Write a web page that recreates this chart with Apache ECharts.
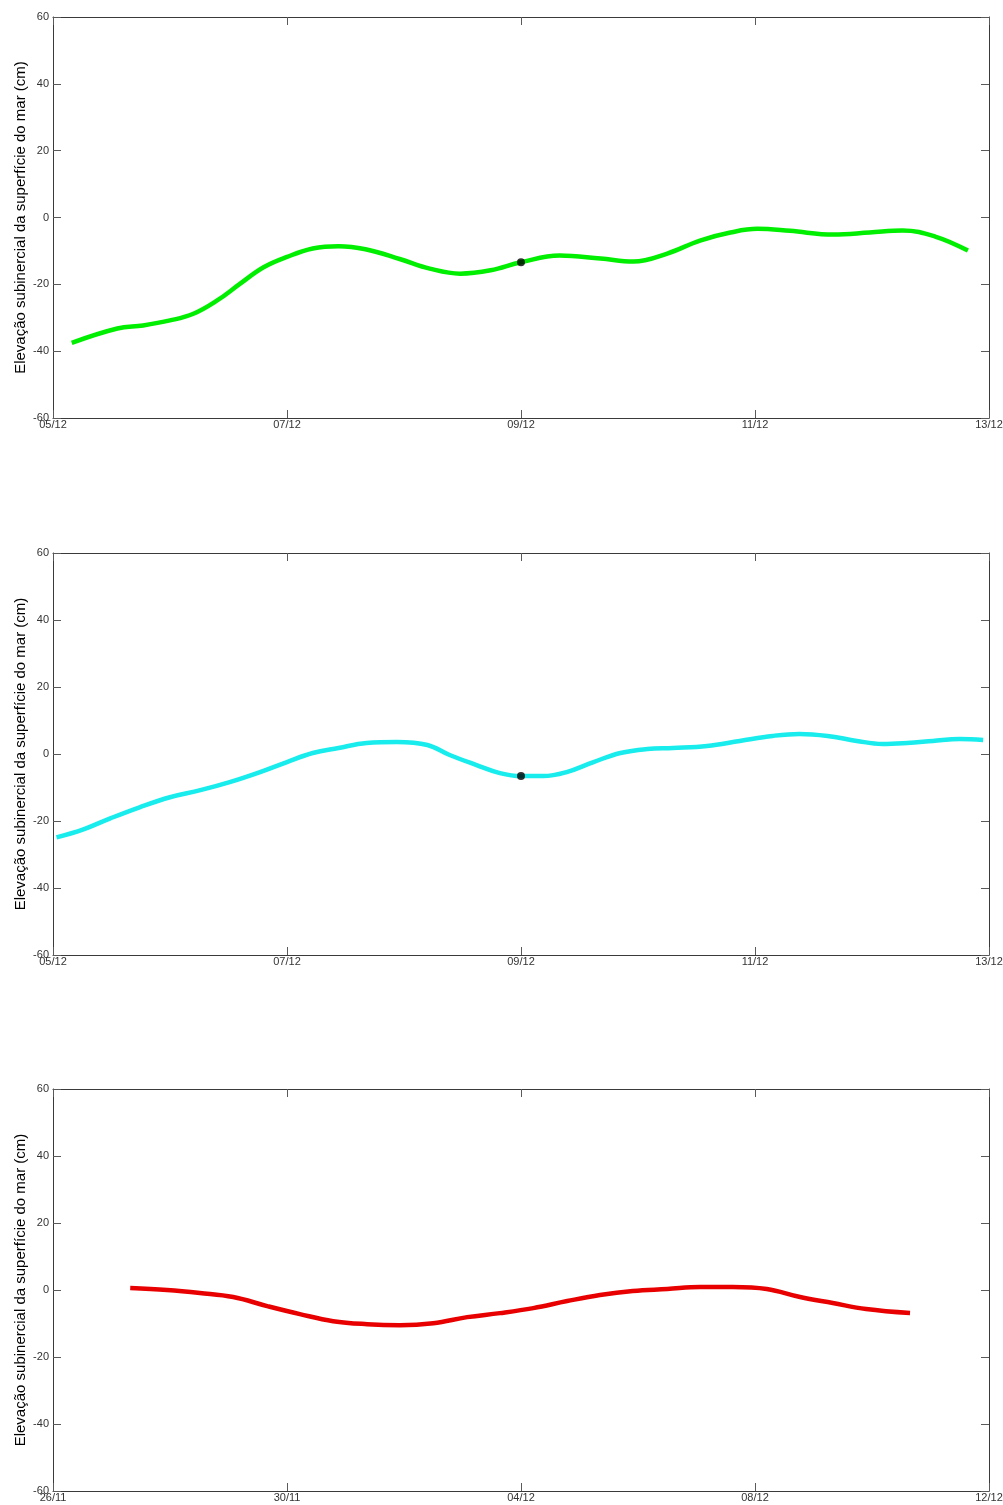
<!DOCTYPE html>
<html>
<head>
<meta charset="utf-8">
<script src="https://cdn.jsdelivr.net/npm/echarts@6/dist/echarts.min.js"></script>
<style>
html,body{margin:0;padding:0;background:#fff;}
#chart{width:1003px;height:1505px;}
</style>
</head>
<body>
<div id="chart"></div>
<script>
// ---- Data ----
// x values are days since the first tick label of each panel
var ticksTop = ["05/12", "07/12", "09/12", "11/12", "13/12"];
var ticksMid = ["05/12", "07/12", "09/12", "11/12", "13/12"];
var ticksBot = ["26/11", "30/11", "04/12", "08/12", "12/12"];
var yTicks = [-60, -40, -20, 0, 20, 40, 60];

var greenX = [0.16, 0.55, 0.77, 1.0, 1.2, 1.4, 1.6, 1.8, 2.0, 2.22, 2.44, 2.67, 2.97, 3.22, 3.48, 3.74, 4.0, 4.33, 4.68, 4.96, 5.25, 5.53, 5.79, 6.02, 6.3, 6.67, 6.98, 7.26, 7.54, 7.82];
var greenY = [-37.5, -33.2, -32.3, -30.8, -28.8, -24.9, -19.8, -14.9, -11.8, -9.3, -8.6, -9.5, -12.5, -15.3, -16.8, -15.8, -13.4, -11.4, -12.3, -13.2, -10.8, -6.9, -4.5, -3.4, -4.0, -5.1, -4.5, -3.9, -5.7, -9.9];
var greenDot = [4.0, -13.4];

var cyanX = [0.03, 0.26, 0.49, 0.74, 1.0, 1.26, 1.51, 1.77, 2.0, 2.22, 2.44, 2.68, 2.94, 3.2, 3.39, 3.62, 3.82, 4.0, 4.19, 4.39, 4.62, 4.85, 5.08, 5.3, 5.59, 5.87, 6.15, 6.38, 6.62, 6.87, 7.09, 7.3, 7.52, 7.75, 7.95];
var cyanY = [-24.9, -22.5, -19.2, -15.9, -12.9, -10.8, -8.4, -5.4, -2.4, 0.3, 1.8, 3.3, 3.6, 2.7, -0.3, -3.3, -5.7, -6.6, -6.6, -5.4, -2.4, 0.3, 1.5, 1.8, 2.4, 3.9, 5.4, 6.0, 5.4, 3.9, 3.0, 3.3, 3.9, 4.5, 4.2];
var cyanDot = [4.0, -6.6];

var redX = [1.32, 1.95, 2.51, 3.08, 3.66, 4.22, 4.79, 5.37, 5.93, 6.5, 7.08, 7.64, 8.21, 8.79, 9.35, 9.91, 10.5, 11.06, 11.62, 12.2, 12.77, 13.33, 13.9, 14.65];
var redY = [0.6, 0.0, -0.9, -2.1, -4.8, -7.2, -9.3, -10.2, -10.5, -9.9, -8.1, -6.9, -5.4, -3.3, -1.5, -0.3, 0.3, 0.9, 0.9, 0.3, -2.1, -3.9, -5.7, -6.9];

var yName = "Elevação subinercial da superfície do mar (cm)";

// ---- Build ----
function zip(xs, ys) { return xs.map(function (x, i) { return [x, ys[i]]; }); }

var panels = [
  { top: 17, height: 401, labels: ticksTop, span: 8, x: greenX, y: greenY, color: "#00ee00", dot: greenDot },
  { top: 553, height: 402, labels: ticksMid, span: 8, x: cyanX, y: cyanY, color: "#18ecec", dot: cyanDot },
  { top: 1089, height: 402, labels: ticksBot, span: 16, x: redX, y: redY, color: "#e80000", dot: null }
];

var lineCol = "#3a3a3a";
var tickCol = "#5a5a5a";
var labelStyle = { color: "#333", fontSize: 11, fontFamily: "Liberation Sans, Arial, sans-serif" };

var option = { animation: false, backgroundColor: "#fff", grid: [], xAxis: [], yAxis: [], series: [] };

panels.forEach(function (p, i) {
  option.grid.push({ left: 53, right: 14, top: p.top, height: p.height, containLabel: false, outerBoundsMode: "none" });
  var step = p.span / (p.labels.length - 1);
  var xBase = {
    type: "value", gridIndex: i, min: 0, max: p.span, interval: step,
    splitLine: { show: false },
    axisLine: { show: true, onZero: false, lineStyle: { color: lineCol, width: 1 } },
    axisTick: { show: true, inside: true, length: 8, lineStyle: { color: tickCol } }
  };
  var yBase = {
    type: "value", gridIndex: i, min: yTicks[0], max: yTicks[yTicks.length - 1], interval: yTicks[1] - yTicks[0],
    splitLine: { show: false },
    axisLine: { show: true, onZero: false, lineStyle: { color: lineCol, width: 1 } },
    axisTick: { show: true, inside: true, length: 8, lineStyle: { color: tickCol } }
  };
  option.xAxis.push(Object.assign({}, xBase, {
    position: "bottom",
    axisLabel: Object.assign({ margin: 1, formatter: (function (labels, st) { return function (v) { return labels[Math.round(v / st)]; }; })(p.labels, step), showMinLabel: true, showMaxLabel: true, hideOverlap: false }, labelStyle)
  }));
  option.xAxis.push(Object.assign({}, xBase, { position: "top", axisLabel: { show: false } }));
  option.yAxis.push(Object.assign({}, yBase, {
    position: "left",
    name: yName, nameLocation: "middle", nameGap: 25, nameRotate: 90, nameMoveOverlap: false,
    nameTextStyle: { color: "#000", fontSize: 15, fontFamily: "Liberation Sans, Arial, sans-serif" },
    axisLabel: Object.assign({ margin: 4, showMinLabel: true, showMaxLabel: true, hideOverlap: false }, labelStyle)
  }));
  option.yAxis.push(Object.assign({}, yBase, { position: "right", axisLabel: { show: false } }));

  option.series.push({
    type: "line", xAxisIndex: 2 * i, yAxisIndex: 2 * i, data: zip(p.x, p.y),
    smooth: 0.4, showSymbol: false, symbol: "none",
    lineStyle: { color: p.color, width: 4.5 }, z: 3
  });
  if (p.dot) {
    option.series.push({
      type: "scatter", xAxisIndex: 2 * i, yAxisIndex: 2 * i, data: [p.dot],
      symbol: "circle", symbolSize: 8, itemStyle: { color: "#000" }, z: 5
    });
  }
});

var chart = echarts.init(document.getElementById("chart"), null, { renderer: "canvas" });
chart.setOption(option);
</script>
</body>
</html>
